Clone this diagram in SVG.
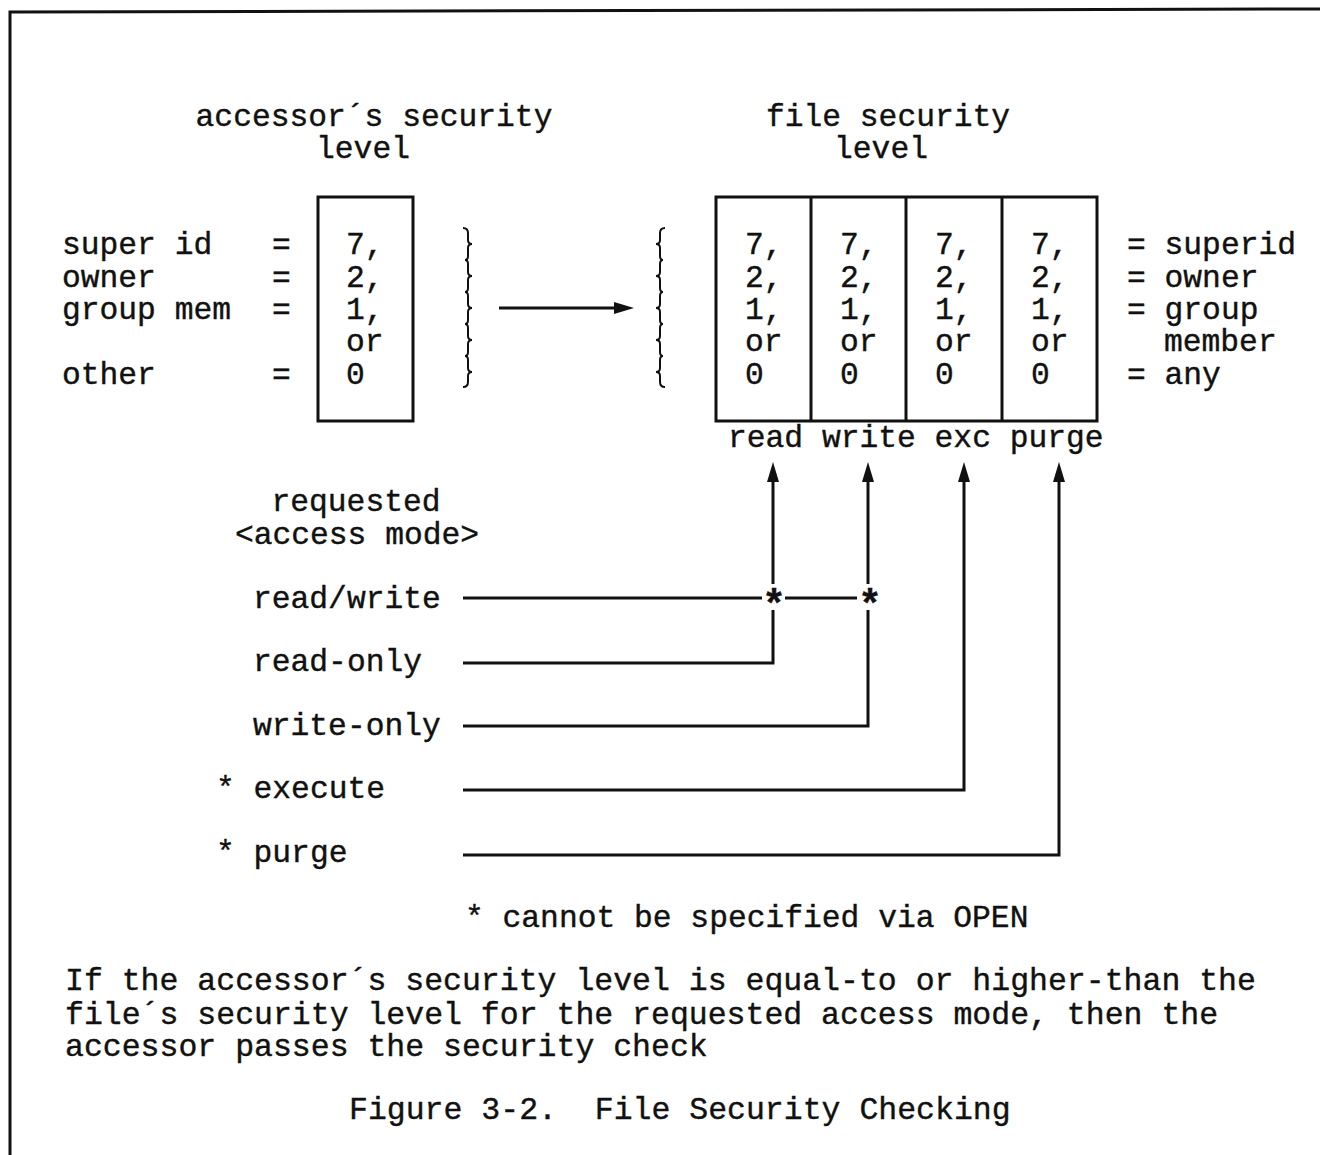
<svg xmlns="http://www.w3.org/2000/svg" width="1320" height="1155" viewBox="0 0 1320 1155">
<style>
text{font-family:"Liberation Mono","Courier New",monospace;font-size:31.3px;fill:#111;stroke:#111;stroke-width:0.4px;}
.mid{text-anchor:middle;}
.note{font-size:31.5px;}
.box{fill:none;stroke:#111;stroke-width:3;}
.ln{fill:none;stroke:#111;stroke-width:3;}
.br{fill:none;stroke:#111;stroke-width:2;}
.star{font-weight:bold;text-anchor:middle;font-size:40px;}
</style>
<defs>
<marker id="ah" viewBox="0 0 20 12" refX="12" refY="6" markerWidth="20" markerHeight="12" markerUnits="userSpaceOnUse" orient="auto">
<path d="M0,0 L20,6 L0,12 Z" fill="#111"/>
</marker>
</defs>
<rect width="1320" height="1155" fill="#fff"/>
<g id="frame">
<path class="ln" d="M10,1155 L10,12 L1320,9"/>
</g>
<g id="accessor-title">
<text x="374" y="126" class="mid">accessor´s security</text>
<text x="363" y="158" class="mid">level</text>
</g>
<g id="file-title">
<text x="888" y="126" class="mid">file security</text>
<text x="881" y="158" class="mid">level</text>
</g>
<g id="accessor-labels">
<text x="62" y="254">super id</text>
<text x="62" y="287">owner</text>
<text x="62" y="319">group mem</text>
<text x="62" y="384">other</text>
<text x="272" y="254">=</text>
<text x="272" y="287">=</text>
<text x="272" y="319">=</text>
<text x="272" y="384">=</text>
</g>
<g id="accessor-box">
<rect class="box" x="318" y="197" width="95" height="224"/>
<text x="346" y="254">7,</text>
<text x="346" y="287">2,</text>
<text x="346" y="319">1,</text>
<text x="346" y="351">or</text>
<text x="346" y="384">0</text>
</g>
<g id="braces">
<path class="br" d="M463,228 Q468,228 468,233 L468,240 Q468,244 472,244 Q468,244 468,248 L468,256 Q468,260 465,260 Q468,260 468,264 L468,272 Q468,276 472,276 Q468,276 468,280 L468,288 Q468,292 465,292 Q468,292 468,296 L468,304 Q468,308 472,308 Q468,308 468,312 L468,320 Q468,324 465,324 Q468,324 468,328 L468,336 Q468,340 472,340 Q468,340 468,344 L468,352 Q468,356 465,356 Q468,356 468,360 L468,368 Q468,372 472,372 Q468,372 468,376 L468,382 Q468,387 463,387"/>
<path class="br" d="M665,228 Q660,228 660,233 L660,240 Q660,244 656,244 Q660,244 660,248 L660,256 Q660,260 663,260 Q660,260 660,264 L660,272 Q660,276 656,276 Q660,276 660,280 L660,288 Q660,292 663,292 Q660,292 660,296 L660,304 Q660,308 656,308 Q660,308 660,312 L660,320 Q660,324 663,324 Q660,324 660,328 L660,336 Q660,340 656,340 Q660,340 660,344 L660,352 Q660,356 663,356 Q660,356 660,360 L660,368 Q660,372 656,372 Q660,372 660,376 L660,382 Q660,387 665,387"/>
</g>
<g id="file-box">
<rect class="box" x="716" y="197" width="381" height="224"/>
<line class="box" x1="811" y1="197" x2="811" y2="421"/>
<line class="box" x1="906" y1="197" x2="906" y2="421"/>
<line class="box" x1="1002" y1="197" x2="1002" y2="421"/>
<text x="745" y="254">7,</text><text x="745" y="287">2,</text><text x="745" y="319">1,</text><text x="745" y="351">or</text><text x="745" y="384">0</text>
<text x="840" y="254">7,</text><text x="840" y="287">2,</text><text x="840" y="319">1,</text><text x="840" y="351">or</text><text x="840" y="384">0</text>
<text x="935" y="254">7,</text><text x="935" y="287">2,</text><text x="935" y="319">1,</text><text x="935" y="351">or</text><text x="935" y="384">0</text>
<text x="1031" y="254">7,</text><text x="1031" y="287">2,</text><text x="1031" y="319">1,</text><text x="1031" y="351">or</text><text x="1031" y="384">0</text>
<text x="728" y="447">read write exc purge</text>
</g>
<g id="file-labels">
<text x="1127" y="254">= superid</text>
<text x="1127" y="287">= owner</text>
<text x="1127" y="319">= group</text>
<text x="1164" y="351">member</text>
<text x="1127" y="384">= any</text>
</g>
<g id="mode-labels">
<text x="356" y="511" class="mid">requested</text>
<text x="357" y="544" class="mid">&lt;access mode&gt;</text>
<text x="253" y="608">read/write</text>
<text x="253" y="671">read-only</text>
<text x="253" y="735">write-only</text>
<text x="216" y="798">* execute</text>
<text x="216" y="862">* purge</text>
</g>
<g id="connectors">
<line class="ln" x1="499" y1="308" x2="626" y2="308" marker-end="url(#ah)"/>
<line class="ln" x1="463" y1="598" x2="762" y2="598"/>
<line class="ln" x1="785" y1="598" x2="857" y2="598"/>
<line class="ln" x1="773" y1="584" x2="773" y2="470" marker-end="url(#ah)"/>
<line class="ln" x1="868" y1="584" x2="868" y2="470" marker-end="url(#ah)"/>
<polyline class="ln" points="463,663 773,663 773,610"/>
<polyline class="ln" points="463,726 868,726 868,610"/>
<polyline class="ln" points="463,790 964,790 964,470" marker-end="url(#ah)"/>
<polyline class="ln" points="463,855 1059,855 1059,470" marker-end="url(#ah)"/>
<text x="774" y="618" class="star">*</text>
<text x="870" y="618" class="star">*</text>
</g>
<g id="notes">
<text x="465" y="927">* cannot be specified via OPEN</text>
<text x="65" y="990" class="note">If the accessor´s security level is equal-to or higher-than the</text>
<text x="65" y="1024" class="note">file´s security level for the requested access mode, then the</text>
<text x="65" y="1056" class="note">accessor passes the security check</text>
<text x="349" y="1119" class="note" xml:space="preserve">Figure 3-2.  File Security Checking</text>
</g>
</svg>
